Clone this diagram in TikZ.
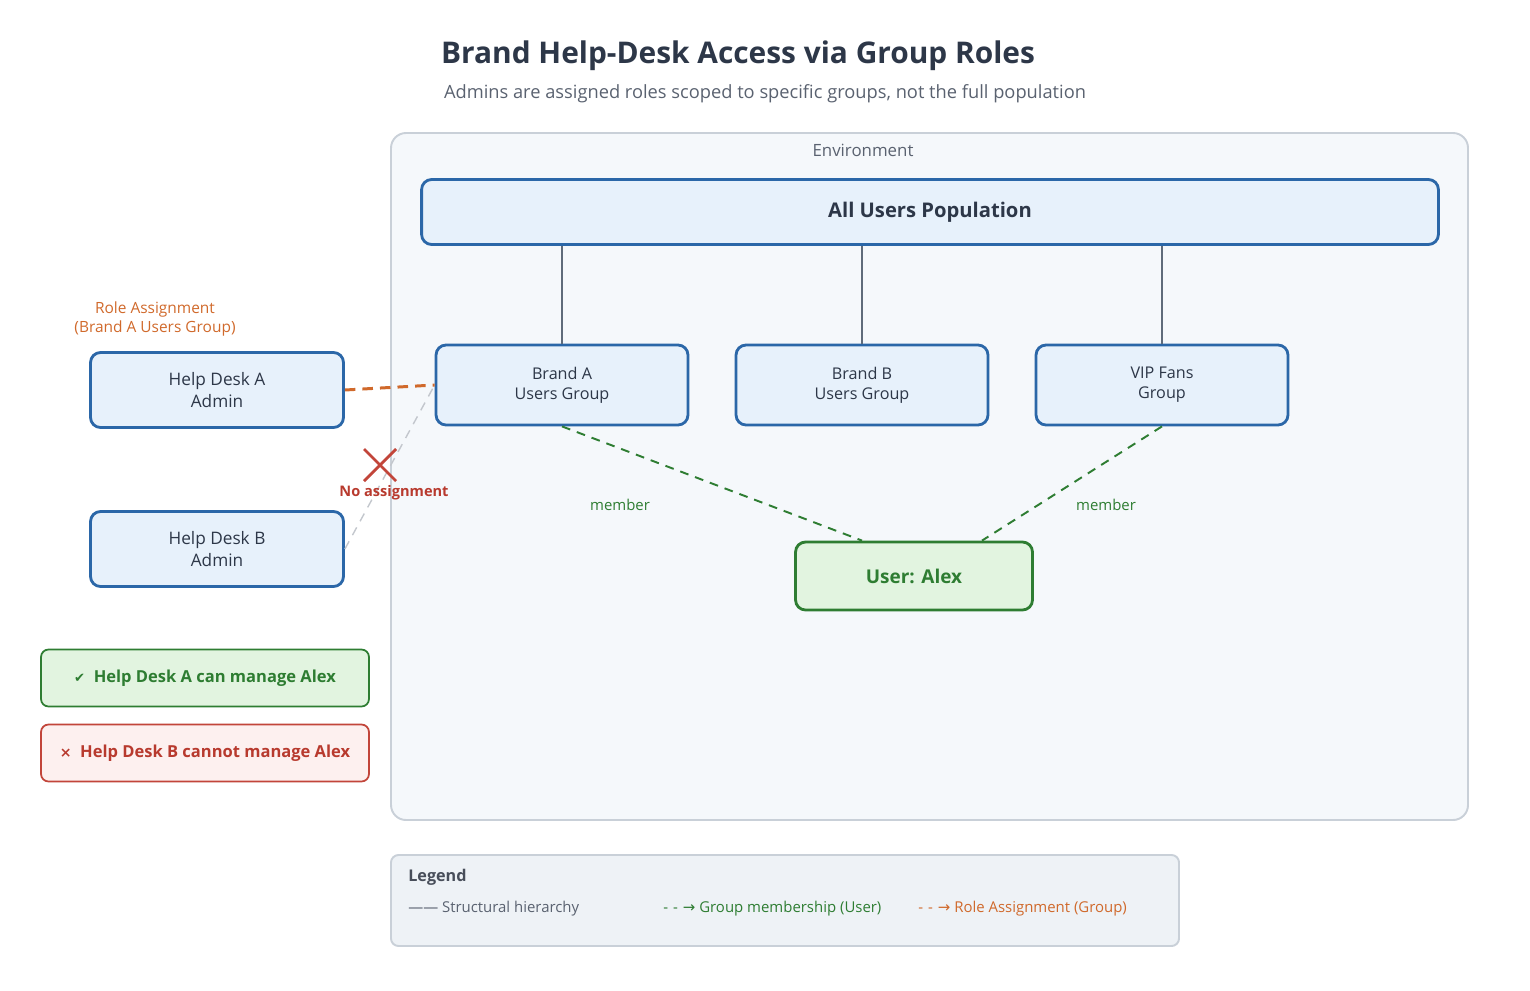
\documentclass[tikz,border=0pt]{standalone}
\usepackage{fontspec}
\setmainfont{Open Sans}
\newfontfamily\symfont{DejaVu Sans}
\usepackage{tikz}
\usetikzlibrary{positioning}

\definecolor{titlecol}{HTML}{2D3748}
\definecolor{subcol}{HTML}{5A6270}
\definecolor{bluedraw}{HTML}{2B67A8}
\definecolor{bluefill}{HTML}{E7F1FB}
\definecolor{greendraw}{HTML}{2E7D32}
\definecolor{greenfill}{HTML}{E2F4E0}
\definecolor{reddraw}{HTML}{C2453A}
\definecolor{redfill}{HTML}{FDF0EF}
\definecolor{redtext}{HTML}{B83A2E}
\definecolor{orangecol}{HTML}{D0692B}
\definecolor{linecol}{HTML}{5F6B7A}
\definecolor{envfill}{HTML}{F5F8FB}
\definecolor{envdraw}{HTML}{C9D0D8}
\definecolor{legfill}{HTML}{EEF2F6}
\definecolor{nogray}{HTML}{C3C7CD}

\tikzset{
    every node/.style={inner sep=0pt, align=center},
    box/.style={rectangle, rounded corners=0.2cm, draw=bluedraw, fill=bluefill,
        line width=1.6pt, text=titlecol},
    admin/.style={box, minimum width=5.06cm, minimum height=1.5cm,
        font=\fontsize{9.8}{12.5}\selectfont},
    group/.style={box, minimum width=5.04cm, minimum height=1.6cm,
        font=\fontsize{9.2}{11.3}\selectfont},
    result/.style={rectangle, rounded corners=0.15cm, line width=1pt,
        minimum width=6.56cm, minimum height=1.14cm,
        font=\bfseries\fontsize{9.4}{11}\selectfont},
    hier/.style={draw=linecol, line width=1.1pt},
    membership/.style={draw=greendraw, line width=1.1pt,
        dash pattern=on 5pt off 4pt},
    roleassign/.style={draw=orangecol, line width=1.7pt,
        dash pattern=on 6pt off 4pt},
    small/.style={font=\fontsize{8.5}{10}\selectfont}
}

\begin{document}
\begin{tikzpicture}[x=0.02cm, y=-0.02cm]
    \useasboundingbox (0,0) rectangle (1530,990);

    % title
    \node (title) [text=titlecol, font=\bfseries\fontsize{17}{20}\selectfont] at (738,56)
        {Brand Help-Desk Access via Group Roles};
    \node (subtitle) [text=subcol, font=\fontsize{10.4}{12.5}\selectfont] at (765,94)
        {Admins are assigned roles scoped to specific groups, not the full population};

    % environment
    \draw [draw=envdraw, fill=envfill, line width=1.1pt, rounded corners=0.3cm]
        (391,133) rectangle (1468,820);
    \node (env) [text=subcol, font=\fontsize{9.6}{11.5}\selectfont] at (863,150) {Environment};

    \node (all) [box, minimum width=20.34cm, minimum height=1.3cm,
        font=\bfseries\fontsize{11.5}{13}\selectfont] at (930,212) {All Users Population};

    \node (bra) [group] at (562,385) {Brand A\\Users Group};
    \node (brb) [group] at (862,385) {Brand B\\Users Group};
    \node (vip) [group] at (1162,385) {VIP Fans\\Group};

    \node (alex) [box, draw=greendraw, fill=greenfill, text=greendraw,
        minimum width=4.74cm, minimum height=1.36cm,
        font=\bfseries\fontsize{10.8}{13}\selectfont] at (914,576) {User: Alex};

    \draw [hier] (all.south -| bra.north) -- (bra.north);
    \draw [hier] (all.south -| brb.north) -- (brb.north);
    \draw [hier] (all.south -| vip.north) -- (vip.north);

    \draw [membership] (bra.south) -- ([xshift=-1.04cm]alex.north);
    \draw [membership] (vip.south) -- ([xshift=1.36cm]alex.north);
    \node (mema) [small, text=greendraw] at (620,505) {member};
    \node (memb) [small, text=greendraw] at (1106,505) {member};

    % admins
    \node (hda) [admin] at (217,390) {Help Desk A\\Admin};
    \node (hdb) [admin] at (217,549) {Help Desk B\\Admin};
    \node (rolelbl) [text=orangecol, font=\fontsize{8.8}{10.3}\selectfont] at (155,319)
        {Role Assignment\\(Brand A Users Group)};

    \draw [roleassign] (hda.east) -- (bra.west);
    \draw [draw=nogray, line width=0.8pt, dash pattern=on 5pt off 4pt] (hdb.east) -- (bra.west);

    \coordinate (nox) at (380,465);
    \draw [draw=reddraw, line width=1.6pt] ([shift={(-16,-16)}]nox) -- ([shift={(16,16)}]nox)
        ([shift={(-16,16)}]nox) -- ([shift={(16,-16)}]nox);
    \node (nolbl) [text=redtext, font=\bfseries\fontsize{8.3}{10}\selectfont] at (394,493)
        {No assignment};

    % results
    \node (canA) [result, draw=greendraw, fill=greenfill, text=greendraw] at (205,678)
        {{\symfont\fontsize{7.5}{10}\selectfont ✔}\ \ Help Desk A can manage Alex};
    \node (cantB) [result, draw=reddraw, fill=redfill, text=redtext] at (205,753)
        {{\symfont\bfseries\fontsize{8}{10}\selectfont ×}\ \ Help Desk B cannot manage Alex};

    % legend
    \draw [draw=envdraw, fill=legfill, line width=1.1pt, rounded corners=0.15cm]
        (391,855) rectangle (1179,946);
    \node (legend) [anchor=west, text=subcol!80!black, font=\bfseries\fontsize{9.2}{11}\selectfont]
        at (408,877) {Legend};
    \node (leghier) [anchor=west, text=subcol, small] at (408,909)
        {—— Structural hierarchy};
    \node (legmem) [anchor=west, text=greendraw, small] at (663,909)
        {-\,\,-\,\,{\symfont→}\ Group membership (User)};
    \node (legrole) [anchor=west, text=orangecol, small] at (918,909)
        {-\,\,-\,\,{\symfont→}\ Role Assignment (Group)};
\end{tikzpicture}
\end{document}
